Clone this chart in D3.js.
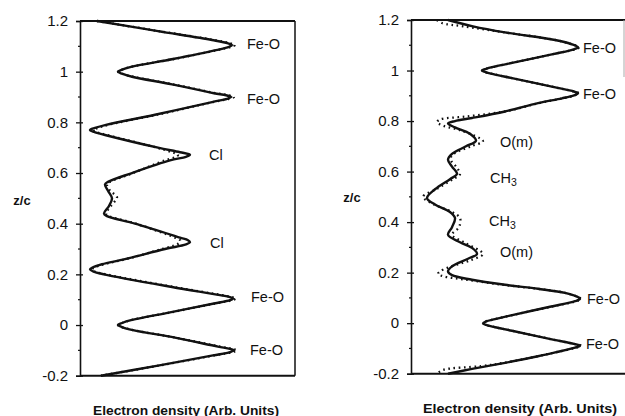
<!DOCTYPE html>
<html><head><meta charset="utf-8">
<script src="https://cdn.jsdelivr.net/npm/d3@7"></script>
<style>
body{margin:0;background:#fff}
svg{display:block}
text{font-family:"Liberation Sans",Arial,Helvetica,sans-serif;fill:#111}
</style>
</head><body>
<svg id="c" width="625" height="416"></svg>
<script>
// ---- axis ticks ----
const yTicks = [-0.2, 0, 0.2, 0.4, 0.6, 0.8, 1, 1.2];
const yTickLabels = ["-0.2", "0", "0.2", "0.4", "0.6", "0.8", "1", "1.2"];
const yMinorTicks = [-0.1, 0.1, 0.3, 0.5, 0.7, 0.9, 1.1];
const xTitle = "Electron density (Arb. Units)";
const yTitle = "z/c";

// ---- left panel: calculated (solid) ----
const leftCalcZ = [1.2,1.16,1.125,1.112,1.105,1.098,1.085,1.05,1.02,1.008,1.0,0.992,0.98,0.95,0.915,0.907,0.9,0.893,0.88,0.83,0.79,0.778,0.77,0.762,0.75,0.7,0.682,0.672,0.664,0.65,0.6,0.565,0.555,0.53,0.5,0.47,0.44,0.43,0.4,0.345,0.335,0.327,0.318,0.3,0.26,0.24,0.228,0.22,0.212,0.2,0.15,0.118,0.11,0.105,0.098,0.085,0.05,0.02,0.008,0.0,-0.008,-0.02,-0.05,-0.085,-0.094,-0.1,-0.107,-0.12,-0.16,-0.2];
const leftCalcD = [17,78,132,148,152,149,136,93,52,42,38,42,52,92,134,146,151,147,132,75,26,15,10,14,25,78,100,110,106,90,52,28,25,28,32,29,24,27,55,100,108,110,106,85,45,22,13,10,13,24,92,140,150,153,150,134,90,52,42,38,42,53,95,138,150,154,150,133,78,21];
// ---- left panel: observed (dotted) ----
const leftObsZ = [1.2,1.16,1.125,1.112,1.105,1.098,1.085,1.05,1.02,1.008,1.0,0.992,0.98,0.95,0.915,0.907,0.9,0.893,0.88,0.83,0.79,0.778,0.77,0.762,0.75,0.7,0.682,0.672,0.664,0.65,0.6,0.565,0.555,0.53,0.505,0.47,0.44,0.43,0.4,0.345,0.335,0.327,0.318,0.3,0.26,0.24,0.228,0.22,0.212,0.2,0.15,0.118,0.11,0.105,0.098,0.085,0.05,0.02,0.008,0.0,-0.008,-0.02,-0.05,-0.085,-0.094,-0.1,-0.107,-0.12,-0.16,-0.2];
const leftObsD = [17,79,134,150,155,151,137,94,52,42,38,42,53,93,136,148,154,149,133,77,28,18,13,16,27,77,92,98,96,85,53,30,27,30,37,31,26,29,56,95,100,100,97,82,46,24,15,12,14,26,94,142,152,156,152,135,91,52,42,38,42,53,96,140,152,157,152,134,79,21];

// ---- right panel: calculated (solid) ----
const rightCalcZ = [1.2,1.175,1.151,1.121,1.105,1.092,1.084,1.065,1.03,1.016,1.007,1.0,0.993,0.984,0.97,0.935,0.917,0.91,0.902,0.89,0.871,0.838,0.812,0.8,0.79,0.775,0.75,0.722,0.7,0.67,0.647,0.62,0.591,0.57,0.53,0.495,0.47,0.44,0.416,0.38,0.35,0.32,0.295,0.274,0.255,0.225,0.205,0.19,0.172,0.152,0.136,0.12,0.105,0.096,0.087,0.065,0.03,0.016,0.007,0.0,-0.007,-0.016,-0.03,-0.065,-0.082,-0.089,-0.097,-0.115,-0.131,-0.157,-0.181,-0.2];
const rightCalcD = [37,62,94,144,160,167,163,142,101,84,75,71,75,84,101,142,163,167,163,151,127,94,61,44,37,44,59,65,55,41,37,41,46,39,24,16,24,39,44,41,37,49,62,66,57,41,37,41,61,94,127,154,166,169,164,139,99,84,75,72,75,84,101,142,163,169,164,145,127,94,61,37];
// ---- right panel: observed (dotted) ----
const rightObsZ = [1.2,1.188,1.175,1.151,1.121,1.105,1.092,1.084,1.065,1.03,1.016,1.007,1.0,0.993,0.984,0.97,0.935,0.917,0.91,0.902,0.89,0.871,0.838,0.818,0.806,0.795,0.782,0.76,0.72,0.7,0.665,0.645,0.62,0.59,0.57,0.53,0.5,0.47,0.44,0.416,0.38,0.35,0.32,0.274,0.25,0.22,0.205,0.195,0.185,0.172,0.152,0.136,0.12,0.105,0.096,0.087,0.065,0.03,0.016,0.007,0.0,-0.007,-0.016,-0.03,-0.065,-0.082,-0.089,-0.097,-0.115,-0.131,-0.157,-0.17,-0.185,-0.2];
const rightObsD = [26,31,52,94,144,160,168,164,142,101,84,75,71,75,84,101,142,163,168,164,152,128,94,55,29,26,32,52,72,60,41,40,45,49,42,25,12,23,41,49,48,41,53,72,60,37,29,27,33,55,92,127,154,166,170,165,140,99,84,75,72,75,84,101,142,163,170,165,145,127,93,70,32,26];

// ---- peak labels ----
const leftLabelText = ["Fe-O", "Fe-O", "Cl", "Cl", "Fe-O", "Fe-O"];
const leftLabelZ = [1.110, 0.892, 0.671, 0.324, 0.111, -0.100];
const leftLabelD = [167, 167, 129, 130, 171, 170];
const rightLabelText = ["Fe-O", "Fe-O", "O(m)", "CH3", "CH3", "O(m)", "Fe-O", "Fe-O"];
const rightLabelZ = [1.088, 0.908, 0.719, 0.573, 0.406, 0.282, 0.097, -0.081];
const rightLabelD = [172, 172, 89, 79, 78, 89, 176, 175];

const svg = d3.select("#c");

function panel(cfg) {
  const x = d3.scaleLinear().domain([0, 214]).range([cfg.x0, cfg.x1]);
  const y = d3.scaleLinear().domain([-0.2, 1.2]).range([cfg.yb, cfg.yt]);
  const g = svg.append("g");

  // frame
  g.append("line").attr("x1", cfg.x0).attr("x2", cfg.frameRight).attr("y1", cfg.yt).attr("y2", cfg.yt)
    .attr("stroke", "#111").attr("stroke-width", 2);
  g.append("line").attr("x1", cfg.x0).attr("x2", cfg.frameRight).attr("y1", cfg.yb).attr("y2", cfg.yb)
    .attr("stroke", "#111").attr("stroke-width", 2);
  if (cfg.rightBorder) {
    g.append("line").attr("x1", cfg.frameRight).attr("x2", cfg.frameRight).attr("y1", cfg.yt).attr("y2", cfg.yb)
      .attr("stroke", "#111").attr("stroke-width", 1.5);
  }

  // y axis
  const ax = d3.axisLeft(y).tickValues(yTicks).tickSize(4).tickPadding(8)
    .tickFormat((d, i) => yTickLabels[i]);
  const axg = g.append("g").attr("transform", `translate(${cfg.x0},0)`).call(ax);
  axg.select(".domain").attr("stroke", "#111").attr("stroke-width", 1.6);
  axg.selectAll(".tick line").attr("stroke", "#111").attr("stroke-width", 1.3).attr("x2", -4).attr("x1", 3);
  axg.selectAll(".tick text").attr("font-size", 15).attr("fill", "#111")
    .attr("font-family", '"Liberation Sans",Arial,sans-serif');
  axg.selectAll(".minor").data(yMinorTicks).enter().append("line")
    .attr("class", "minor").attr("x1", -2).attr("x2", 1)
    .attr("y1", d => y(d)).attr("y2", d => y(d))
    .attr("stroke", "#111").attr("stroke-width", 1.2);

  const line = d3.line().x(d => x(d[1])).y(d => y(d[0])).curve(d3.curveCatmullRom.alpha(0.5));

  // observed dotted
  g.append("path").datum(cfg.obsZ.map((z, i) => [z, cfg.obsD[i]]))
    .attr("d", line).attr("fill", "none").attr("stroke", "#111")
    .attr("stroke-width", 2.3).attr("stroke-dasharray", "1.6 3.6");
  // calculated solid
  g.append("path").datum(cfg.calcZ.map((z, i) => [z, cfg.calcD[i]]))
    .attr("d", line).attr("fill", "none").attr("stroke", "#111")
    .attr("stroke-width", 2.4).attr("stroke-linejoin", "round");

  // labels
  cfg.labels.forEach((t, i) => {
    const tx = g.append("text").attr("x", x(cfg.labelD[i])).attr("y", y(cfg.labelZ[i]))
      .attr("dominant-baseline", "central").attr("font-size", 14.5);
    if (t === "CH3") {
      tx.append("tspan").text("CH");
      tx.append("tspan").text("3").attr("font-size", 10.5).attr("dy", 4);
    } else tx.text(t);
  });

  // titles
  g.append("text").attr("x", cfg.yTitleX).attr("y", cfg.yTitleY).attr("text-anchor", "middle")
    .attr("dominant-baseline", "central").attr("font-size", 13).attr("font-weight", "bold").text(yTitle);
  g.append("text").attr("x", cfg.xTitleX).attr("y", cfg.xTitleY).attr("text-anchor", "middle")
    .attr("dominant-baseline", "central").attr("font-size", 12).attr("font-weight", "bold")
    .attr("textLength", cfg.xTitleW).attr("lengthAdjust", "spacingAndGlyphs").text(xTitle);
}

panel({x0: 80, x1: 294, frameRight: 295, rightBorder: true, yt: 21, yb: 375.7,
  calcZ: leftCalcZ, calcD: leftCalcD, obsZ: leftObsZ, obsD: leftObsD,
  labels: leftLabelText, labelZ: leftLabelZ, labelD: leftLabelD,
  yTitleX: 22, yTitleY: 200, xTitleX: 186, xTitleY: 410.5, xTitleW: 186});

panel({x0: 411, x1: 625, frameRight: 625, rightBorder: false, yt: 20, yb: 373.7,
  calcZ: rightCalcZ, calcD: rightCalcD, obsZ: rightObsZ, obsD: rightObsD,
  labels: rightLabelText, labelZ: rightLabelZ, labelD: rightLabelD,
  yTitleX: 352, yTitleY: 197, xTitleX: 520, xTitleY: 409.3, xTitleW: 194});

// faint edge of the scanned page at the right
svg.append("line").attr("x1", 624).attr("x2", 624).attr("y1", 20).attr("y2", 77)
  .attr("stroke", "#aaa").attr("stroke-width", 1);
</script>
</body></html>
